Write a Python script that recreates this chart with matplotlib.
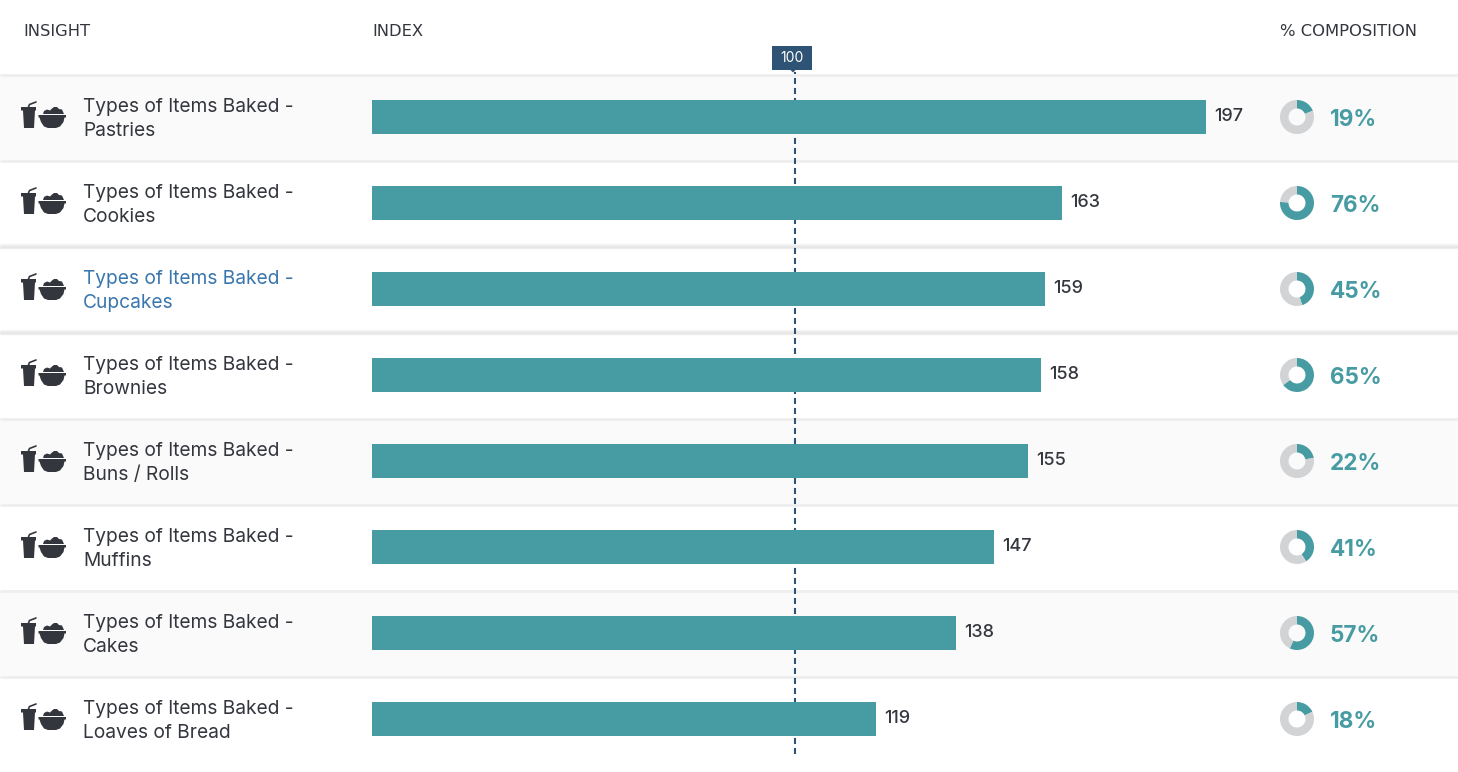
import matplotlib
matplotlib.use('Agg')
import matplotlib.pyplot as plt
from matplotlib.patches import Polygon, Rectangle

plt.rcParams['font.family'] = ['Inter', 'DejaVu Sans']

items = ['Pastries', 'Cookies', 'Cupcakes', 'Brownies', 'Buns / Rolls', 'Muffins', 'Cakes', 'Loaves of Bread']
index_values = [197, 163, 159, 158, 155, 147, 138, 119]
composition = [19, 76, 45, 65, 22, 41, 57, 18]
headers = ['INSIGHT', 'INDEX', '% COMPOSITION']
baseline = 100

TEAL = '#479ba3'
DARK = '#33363d'
NAVY = '#2f5375'
BLUE = '#3a76ae'
GREY = '#d1d3d4'

W, H = 1458, 772
row_h = 86
row_top = 75
row_mid = 42
shaded = [0, 4, 6]
highlight = 2

fig = plt.figure(figsize=(W/100, H/100), dpi=100, facecolor='white')

# whole figure in pixels, y going down, for the table furniture
bg = fig.add_axes([0, 0, 1, 1], zorder=0)
bg.set_xlim(0, W)
bg.set_ylim(H, 0)
bg.axis('off')

over = fig.add_axes([0, 0, 1, 1], zorder=3)
over.set_xlim(0, W)
over.set_ylim(H, 0)
over.axis('off')
over.patch.set_alpha(0)


def draw_icon(ax, cy):
    # cup with straw
    ax.add_patch(Polygon([(21, cy-10), (36, cy-10), (36, cy-6.5), (35, cy-6.5), (34, cy+11), (24, cy+11), (23, cy-6.5), (21, cy-6.5)],
                         facecolor=DARK, edgecolor='none'))
    ax.plot([28.5, 29.5, 36], [cy-10, cy-12.5, cy-15], color=DARK, lw=1.2, solid_capstyle='round')
    # bowl: rim and body
    ax.add_patch(Polygon([(38.5, cy-2), (66, cy-2), (66, cy+0.5), (64.5, cy+0.5), (63.5, cy+5), (60, cy+9.5), (56, cy+11), (48, cy+11), (44, cy+9.5),
                          (41, cy+5), (39.5, cy+0.5), (38.5, cy+0.5)],
                         facecolor=DARK, edgecolor='none'))
    # heap on top of the bowl
    ax.add_patch(Polygon([(43, cy-3), (44, cy-6), (47, cy-7.5), (50, cy-6.5), (52, cy-8.5), (54, cy-10), (57, cy-10), (59, cy-8), (62, cy-7.5), (64, cy-3)],
                         facecolor=DARK, edgecolor='none'))


for i, name in enumerate(items):
    top = row_top + i*row_h
    cy = top + row_mid
    bg.add_patch(Rectangle((0, top), W, row_h, facecolor='#fafafa' if i in shaded else 'white', edgecolor='none'))
    draw_icon(over, cy)
    col = BLUE if i == highlight else DARK
    over.text(83, cy-10, 'Types of Items Baked -', fontsize=13.8, color=col, va='center', ha='left')
    over.text(83, cy+14, name, fontsize=13.8, color=col, va='center', ha='left')

# row separators
for i in range(len(items)):
    bg.plot([0, W], [row_top + i*row_h]*2, color='#eeeeee', lw=2, solid_capstyle='butt')
# shadow around the highlighted row
for t in [row_top + highlight*row_h, row_top + (highlight+1)*row_h]:
    for d, c in [(-3, '#f6f6f6'), (-2, '#f0f0f0'), (-1, '#e9e9e9'), (0, '#e6e6e6'), (1, '#eeeeee')]:
        bg.plot([0, W], [t+d]*2, color=c, lw=1, solid_capstyle='butt')

# bars share one axes with the 100 line
bar_left, bar_right = 372, 1206
ax = fig.add_axes([bar_left/W, 0, (bar_right-bar_left)/W, 1], zorder=1)
ax.patch.set_alpha(0)
ax.set_xlim(0, max(index_values))
ax.set_ylim((H-row_top-row_mid)/row_h, -(row_top+row_mid)/row_h)
ax.axis('off')
ax.axvline(baseline, ymin=(H-754)/H, ymax=(H-72)/H, color=NAVY, lw=1.5, dashes=(2.9, 1.9), zorder=1)
ax.barh(range(len(items)), index_values, height=34/row_h, color=TEAL, zorder=2)
for i, v in enumerate(index_values):
    ax.annotate(str(v), (v, i), xytext=(8*0.72, 0), textcoords='offset points', va='center', ha='left',
                fontsize=13, color=DARK, fontweight='medium')

# donuts
for i, p in enumerate(composition):
    cy = row_top + i*row_h + row_mid
    size = 34
    d = fig.add_axes([(1297-size/2)/W, (H-cy-size/2)/H, size/W, size/H], zorder=2)
    d.pie([p, 100-p], colors=[TEAL, GREY], startangle=90, counterclock=False, radius=1,
          wedgeprops=dict(width=0.5, edgecolor='none'))
    d.set_xlim(-1, 1)
    d.set_ylim(-1, 1)
    over.text(1330, cy+2.5, '%d%%' % p, fontsize=16.2, color=TEAL, fontweight='bold', va='center', ha='left')

# headers, DejaVu is wide enough to fill the spaced out originals
for x, label in zip([23, 372, 1280], headers):
    over.text(x, 31, label, fontsize=11.8, color=DARK, va='center', ha='left', family='DejaVu Sans')

# 100 tag
over.add_patch(Rectangle((772, 46), 40, 24, facecolor=NAVY, edgecolor='none'))
over.add_patch(Polygon([(790.5, 70), (795.5, 70), (793, 72.5)], facecolor=NAVY, edgecolor='none'))
over.text(792, 58, str(baseline), fontsize=10, color='white', va='center', ha='center')

fig.savefig('out.png', dpi=100, facecolor='white')
